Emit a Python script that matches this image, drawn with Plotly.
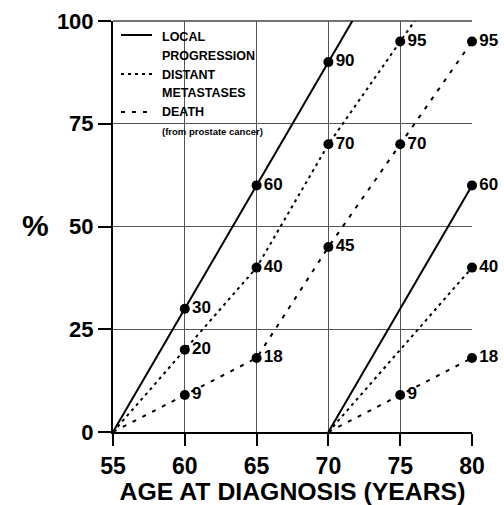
import plotly.graph_objects as go

# ---- data ----
ages_55 = [55, 60, 65, 70, 75, 80]
local_55 = [0, 30, 60, 90, None, None]
meta_55 = [0, 20, 40, 70, 95, None]
death_55 = [0, 9, 18, 45, 70, 95]

ages_70 = [70, 75, 80]
local_70 = [0, None, 60]
meta_70 = [0, None, 40]
death_70 = [0, 9, 18]

x_ticks = [55, 60, 65, 70, 75, 80]
y_ticks = [0, 25, 50, 75, 100]

FONT = "Liberation Sans, Arial, sans-serif"
W, H = 504, 505
# plot area in page pixels
PL, PR, PT, PB = 113, 472, 21, 432
L, R, T, B = PL, PR, PT, PB


def px(xp):
    return (xp - PL) / (PR - PL)


def py(yp):
    return (PB - yp) / (PB - PT)


def pts(xs, ys):
    return [(a, b) for a, b in zip(xs, ys) if b is not None]


def extended(xs, ys):
    p = pts(xs, ys)
    (x1, y1), (x2, y2) = p[-2], p[-1]
    # continue the last segment so it runs out to the frame (clipped by axis range)
    return [a for a, _ in p] + [x2 + (x2 - x1)], [b for _, b in p] + [y2 + (y2 - y1)]


styles = {
    "local": dict(color="black", width=2, dash="solid"),
    "meta": dict(color="black", width=2, dash="3px,4px"),
    "death": dict(color="black", width=2, dash="4px,7px"),
}

fig = go.Figure()

series = [
    ("local", ages_55, local_55, True),
    ("meta", ages_55, meta_55, True),
    ("death", ages_55, death_55, False),
    ("local", ages_70, local_70, False),
    ("meta", ages_70, meta_70, False),
    ("death", ages_70, death_70, False),
]

for key, xs, ys, ext in series:
    if ext:
        lx, ly = extended(xs, ys)
    else:
        p = pts(xs, ys)
        lx, ly = [a for a, _ in p], [b for _, b in p]
    fig.add_trace(go.Scatter(x=lx, y=ly, mode="lines", line=styles[key],
                             showlegend=False, hoverinfo="skip"))
    p = [(a, b) for a, b in pts(xs, ys) if a != xs[0]]
    fig.add_trace(go.Scatter(
        x=[a for a, _ in p], y=[b for _, b in p], mode="markers+text",
        marker=dict(color="black", size=10),
        text=[str(b) for _, b in p], textposition="middle right",
        textfont=dict(family=FONT, size=17, color="black", weight="bold"),
        cliponaxis=False, showlegend=False))

# legend background (covers grid)
fig.add_shape(type="rect", xref="paper", yref="paper",
              x0=px(117), x1=px(283), y0=py(138), y1=py(24),
              fillcolor="white", line=dict(width=0), layer="between")

# top frame line
fig.add_shape(type="line", xref="paper", yref="paper", x0=0, x1=1, y0=1, y1=1,
              line=dict(color="#444", width=1.5), layer="between")

# legend samples
for yy, key in [(35, "local"), (74, "meta"), (112, "death")]:
    fig.add_shape(type="line", xref="paper", yref="paper",
                  x0=px(121), x1=px(152), y0=py(yy), y1=py(yy),
                  line=styles[key], layer="above")

legend_texts = [(37, "LOCAL"), (56, "PROGRESSION"), (75, "DISTANT"),
                (93, "METASTASES"), (112, "DEATH")]
for yy, t in legend_texts:
    fig.add_annotation(xref="paper", yref="paper", x=px(160), y=py(yy),
                       text=t, showarrow=False, xanchor="left", yanchor="middle",
                       font=dict(family=FONT, size=12.5, color="black", weight="bold"))
fig.add_annotation(xref="paper", yref="paper", x=px(160), y=py(131),
                   text="(from prostate cancer)", showarrow=False,
                   xanchor="left", yanchor="middle",
                   font=dict(family=FONT, size=9.5, color="black", weight="bold"))

# "%" label
fig.add_annotation(xref="paper", yref="paper", x=px(35), y=py(226),
                   text="%", showarrow=False, xanchor="center", yanchor="middle",
                   font=dict(family=FONT, size=30, color="black", weight="bold"))

fig.update_layout(
    template="none",
    width=W, height=H,
    margin=dict(l=L, r=W - R, t=T, b=H - B, autoexpand=False),
    paper_bgcolor="white", plot_bgcolor="white",
    xaxis=dict(range=[55, 80], tickvals=x_ticks, showgrid=True, gridcolor="#555",
               gridwidth=1, showline=True, linecolor="black", linewidth=2,
               ticks="outside", ticklen=12, tickwidth=2, tickcolor="black",
               zeroline=False, automargin=False, ticklabeloverflow="allow",
               tickfont=dict(family=FONT, size=23, color="black", weight="bold"),
               title=dict(text="AGE AT DIAGNOSIS (YEARS)", standoff=8,
                          font=dict(family=FONT, size=24.8, color="black", weight="bold"))),
    yaxis=dict(range=[0, 100], tickvals=y_ticks, showgrid=True, gridcolor="#555",
               gridwidth=1, showline=True, linecolor="black", linewidth=2,
               ticks="outside", ticklen=13, tickwidth=2, tickcolor="black",
               zeroline=False, automargin=False, ticklabeloverflow="allow",
               tickfont=dict(family=FONT, size=22, color="black", weight="bold")),
)

fig.write_html(
    "out.html",
    config={"displayModeBar": False},
    post_script="document.body.style.margin='0';document.body.style.overflow='hidden';",
)
